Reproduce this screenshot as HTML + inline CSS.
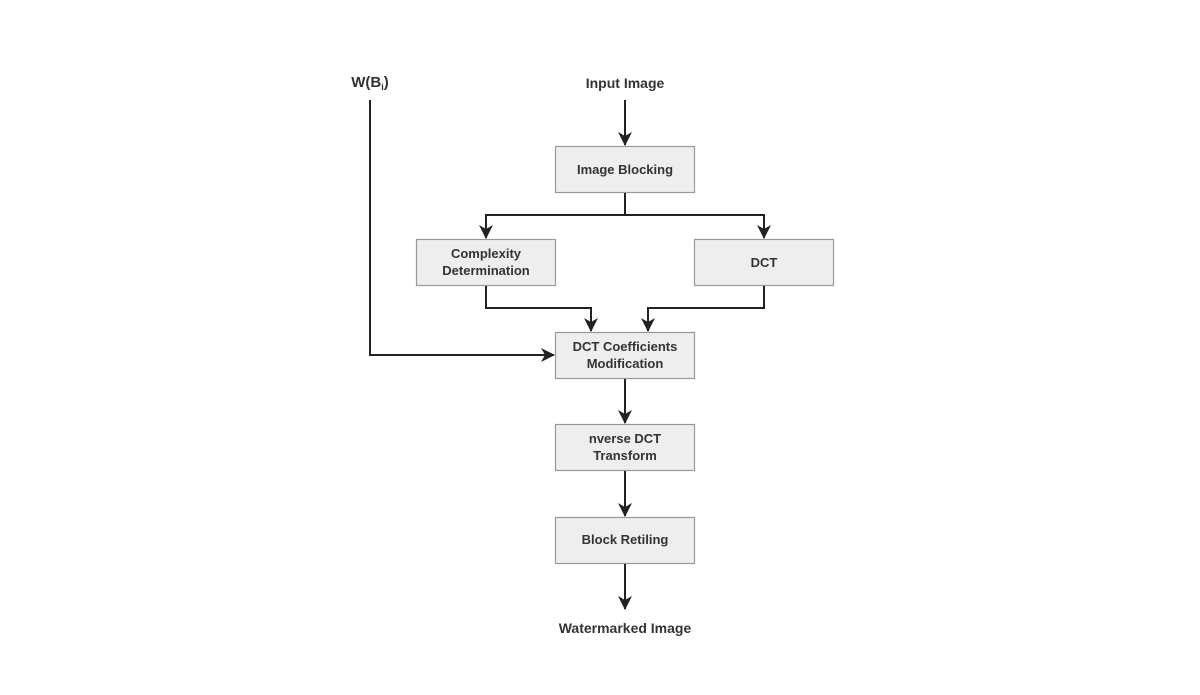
<!DOCTYPE html>
<html><head><style>
html,body{margin:0;padding:0;background:#fff;}
</style></head><body>
<svg width="1200" height="695" xmlns="http://www.w3.org/2000/svg" style="display:block">
<defs><marker id="a" markerWidth="14" markerHeight="14" refX="13" refY="7" orient="auto" markerUnits="userSpaceOnUse"><path d="M0,0 L14,7 L0,14 L4,7 Z" fill="#222"/></marker></defs>
<g font-family="Liberation Sans, sans-serif" font-weight="bold" font-size="14" fill="#333" text-anchor="middle">
<text x="370" y="87" font-size="15">W(B<tspan font-size="9" dy="3">i</tspan><tspan dy="-3">)</tspan></text>
<text x="625" y="88">Input Image</text>
<text x="625" y="633">Watermarked Image</text>
</g>
<g fill="#eee" stroke="#999" stroke-width="1.2">
<rect x="555.5" y="146.5" width="139" height="46"/>
<rect x="416.5" y="239.5" width="139" height="46"/>
<rect x="694.5" y="239.5" width="139" height="46"/>
<rect x="555.5" y="332.5" width="139" height="46"/>
<rect x="555.5" y="424.5" width="139" height="46"/>
<rect x="555.5" y="517.5" width="139" height="46"/>
</g>
<g font-family="Liberation Sans, sans-serif" font-weight="bold" font-size="13" fill="#333" text-anchor="middle">
<text x="625" y="174">Image Blocking</text>
<text x="486" y="258">Complexity</text><text x="486" y="275">Determination</text>
<text x="764" y="267">DCT</text>
<text x="625" y="351">DCT Coefficients</text><text x="625" y="368">Modification</text>
<text x="625" y="443">nverse DCT</text><text x="625" y="460">Transform</text>
<text x="625" y="544">Block Retiling</text>
</g>
<g fill="none" stroke="#222" stroke-width="2">
<path d="M625 100 V145" marker-end="url(#a)"/>
<path d="M625 193 V215 H486 V238" marker-end="url(#a)"/>
<path d="M625 215 H764 V238" marker-end="url(#a)"/>
<path d="M486 286 V308 H591 V331" marker-end="url(#a)"/>
<path d="M764 286 V308 H648 V331" marker-end="url(#a)"/>
<path d="M370 100 V355 H554" marker-end="url(#a)"/>
<path d="M625 379 V423" marker-end="url(#a)"/>
<path d="M625 471 V516" marker-end="url(#a)"/>
<path d="M625 564 V609" marker-end="url(#a)"/>
</g>
</svg>
</body></html>
